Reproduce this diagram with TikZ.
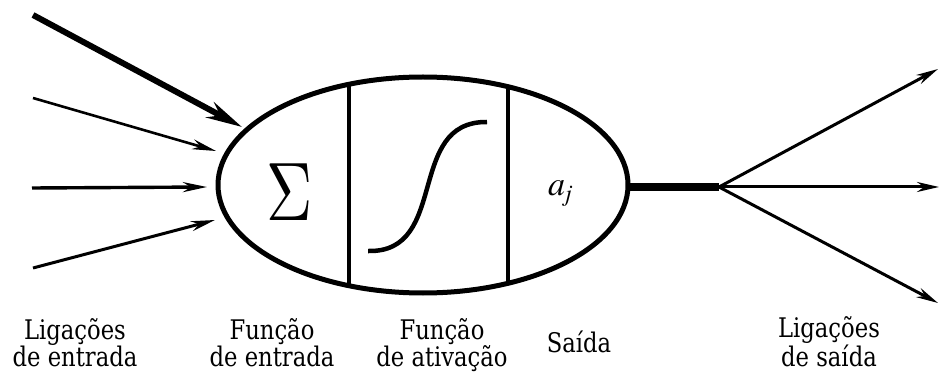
\documentclass[tikz,border=0pt]{standalone}
\usepackage[no-math]{fontspec}
\newfontfamily\termes{texgyretermes}[Extension=.otf,UprightFont=*-regular,ItalicFont=*-italic]
\newfontfamily\djser{DejaVu Serif}
\usetikzlibrary{shapes.geometric,arrows.meta}
\tikzset{
  lbl/.style={align=center,inner sep=0pt,anchor=base,xscale=0.84,font=\fontsize{27}{27}\selectfont\djser},
  thinarrow/.style={line width=2.6pt,-{Stealth[length=24pt,width=10pt]}},
  outarrow/.style={line width=3pt,-{Stealth[length=22pt,width=10pt]}},
  divider/.style={line width=3.5pt},
}
\begin{document}
\begin{tikzpicture}[x=1pt,y=-1pt]
\useasboundingbox (0,0) rectangle (939,374);
% neuron body
\node[draw,ellipse,line width=5pt,minimum width=410pt,minimum height=216pt,inner sep=0pt] (neuron) at (423,185) {};
\coordinate (d1t) at (349,84); \coordinate (d1b) at (349,286);
\coordinate (d2t) at (508,87); \coordinate (d2b) at (508,283);
\draw[divider] (d1t) -- (d1b);
\draw[divider] (d2t) -- (d2b);
% contents
\node[inner sep=0pt] (sum) at (290,192) {\scalebox{6.4}[8.3]{$\Sigma$}};
\draw[line width=4.5pt] (368,251) .. controls (450,253) and (405,121) .. (487,122);
\node[inner sep=0pt,font=\fontsize{34}{34}\selectfont\termes] (out) at (560,193) {\itshape a\raisebox{-6pt}{\fontsize{24}{24}\selectfont j}};
% input links
\coordinate (i1) at (33,15);  \coordinate (t1) at (242,127);
\coordinate (i2) at (33,98);  \coordinate (t2) at (216,151);
\coordinate (i3) at (32,188); \coordinate (t3) at (207,187);
\coordinate (i4) at (33,268); \coordinate (t4) at (215,220);
\draw[line width=6pt,-{Stealth[length=36pt,width=17pt]}] (i1) -- (t1);
\draw[thinarrow] (i2) -- (t2);
\draw[thinarrow,line width=3.4pt] (i3) -- (t3);
\draw[thinarrow,line width=3pt] (i4) -- (t4);
% output links
\coordinate (hub) at (719,187);
\draw[line width=8pt] (neuron.east) ++(-3,2) -- (hub);
\coordinate (o1) at (938,69);
\coordinate (o2) at (939,187);
\coordinate (o3) at (938,303);
\draw[outarrow] (hub) -- (o1);
\draw[outarrow] (hub) -- (o2);
\draw[outarrow] (hub) -- (o3);
% labels
\node[lbl] (l1) at (75,366) {Ligações\\de entrada};
\node[lbl] (l2) at (272,366) {Função\\de entrada};
\node[lbl] (l3) at (442,366) {Função\\de ativação};
\node[lbl] (l4) at (579,352) {Saída};
\node[lbl] (l5) at (829,366) {Ligações\\de saída};
\end{tikzpicture}
\end{document}
